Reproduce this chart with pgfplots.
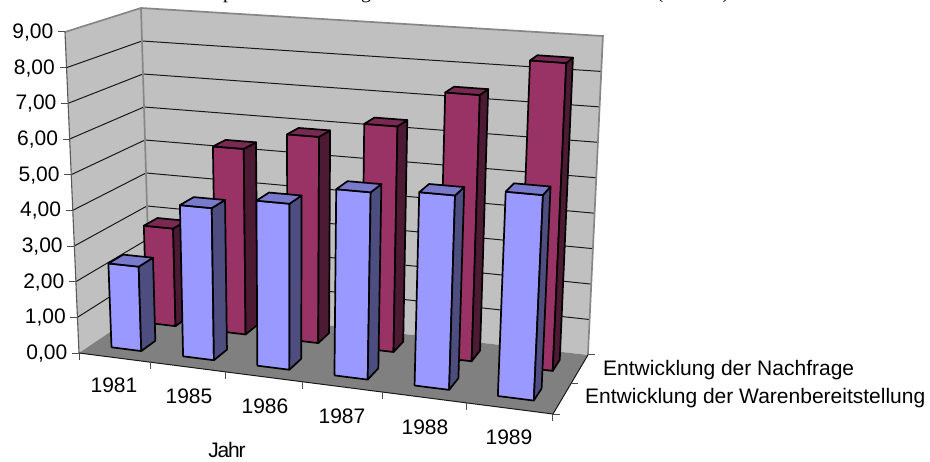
\documentclass[border=0pt]{standalone}
\usepackage{fontspec}
\setmainfont{Liberation Sans}
\newfontfamily\serifface{Liberation Serif}
\newfontfamily\tightface[LetterSpace=-5.5]{Liberation Sans}
\usepackage{pgfplots}
\usepackage{pgfplotstable}
\pgfplotsset{compat=1.18}

\definecolor{wallgrey}{HTML}{C0C0C0}
\definecolor{floorgrey}{HTML}{808080}
\definecolor{edgegrey}{HTML}{868686}
\definecolor{bluefront}{HTML}{9999FF}
\definecolor{blueside}{HTML}{4D4D80}
\definecolor{bluetop}{HTML}{7A7ACC}
\definecolor{redfront}{HTML}{993366}
\definecolor{redside}{HTML}{4D1A33}
\definecolor{redtop}{HTML}{7A2952}

% Yearly values of both series, front row first
\pgfplotstableread{
year angebot nachfrage
1981 2.37 2.85
1985 4.21 5.35
1986 4.53 5.87
1987 5.04 6.34
1988 5.16 7.39
1989 5.38 8.44
}\bardata

% Perspective view: category position c (0..6), series depth d (0..2), value z
\newcommand\project[3]{%
  \pgfmathsetmacro\pu{(#1)/6}\pgfmathsetmacro\pv{(#2)/2}%
  \pgfmathsetmacro\W{1-0.10938*\pu+0.09093*\pv}%
  \pgfmathsetmacro\Sx{(1-\pu)*(1-\pv)*(-1.5556)+\pu*(1-\pv)*1.8889+\pu*\pv*1.6667+(1-\pu)*\pv*(-1)}%
  \pgfmathsetmacro\Sy{(1-\pu)*(1-\pv)*(-35.667)+\pu*(1-\pv)*(-38.9)+\pu*\pv*(-35.44)+(1-\pu)*\pv*(-33)}%
  \pgfmathsetmacro\rx{(413.5*\pu+84.64*\pv+79)/\W+(#3)*\Sx}%
  \pgfmathsetmacro\ry{(15.72*\pu-20.27*\pv+353)/\W+(#3)*\Sy}%
}
\newcommand\startpath{\gdef\coordlist{}}
\newcommand\pt[3]{\project{#1}{#2}{#3}\xdef\coordlist{\coordlist (\rx,\ry)}}
\newcommand\emitpath[1]{\edef\tmp{\noexpand\addplot[\unexpanded{#1}] coordinates {\coordlist};}\tmp}
\newcommand\face[5]{% style, then four corners given as {c}{d}{z} groups
  \startpath\pt#2\pt#3\pt#4\pt#5\pt#2\emitpath{#1}}

% One bar: category, row, value, front colour, side colour, top colour
\newcommand\drawbar[6]{%
  \pgfmathsetmacro\ca{#1+0.29}\pgfmathsetmacro\cb{#1+0.71}%
  \pgfmathsetmacro\da{#2+0.32}\pgfmathsetmacro\db{#2+0.72}%
  \edef\A{{\ca}{\da}{0}}\edef\B{{\cb}{\da}{0}}\edef\C{{\cb}{\db}{0}}%
  \edef\D{{\ca}{\da}{#3}}\edef\E{{\cb}{\da}{#3}}\edef\F{{\cb}{\db}{#3}}\edef\G{{\ca}{\db}{#3}}%
  \startpath\expandafter\pt\A\expandafter\pt\B\expandafter\pt\E\expandafter\pt\D\expandafter\pt\A
  \emitpath{fill=#4,barline}%
  \startpath\expandafter\pt\B\expandafter\pt\C\expandafter\pt\F\expandafter\pt\E\expandafter\pt\B
  \emitpath{fill=#5,barline}%
  \startpath\expandafter\pt\D\expandafter\pt\E\expandafter\pt\F\expandafter\pt\G\expandafter\pt\D
  \emitpath{fill=#6,barline}%
}

\pgfplotsset{barline/.style={draw=black,line width=1.7pt,line join=round}}
\tikzset{lab/.style={font=\fontsize{21}{25}\selectfont,inner sep=0pt,text=black}}

\begin{document}
\begin{tikzpicture}
\useasboundingbox (0,0) rectangle (930pt,461pt);
\begin{axis}[
  at={(0,0)},anchor=south west,scale only axis,
  width=930pt,height=461pt,
  xmin=0,xmax=930,ymin=0,ymax=461,y dir=reverse,
  hide axis,clip=false]

% Walls and floor
\face{fill=wallgrey,draw=none}{{0}{0}{0}}{{0}{2}{0}}{{0}{2}{9}}{{0}{0}{9}}
\face{fill=wallgrey,draw=none}{{0}{2}{0}}{{6}{2}{0}}{{6}{2}{9}}{{0}{2}{9}}
\face{fill=floorgrey,draw=none}{{0}{0}{0}}{{6}{0}{0}}{{6}{2}{0}}{{0}{2}{0}}

% Grid lines on both walls
\foreach \z in {1,...,8}{
  \startpath\pt{0}{0}{\z}\pt{0}{2}{\z}\pt{6}{2}{\z}\emitpath{draw=black!90,line width=1pt}
}
\startpath\pt{0}{0}{9}\pt{0}{2}{9}\pt{6}{2}{9}\pt{6}{2}{0}\emitpath{draw=edgegrey,line width=1.7pt}
\startpath\pt{0}{2}{9}\pt{0}{2}{0}\emitpath{draw=edgegrey,line width=1.7pt}
\startpath\pt{0}{0}{0}\pt{0}{0}{9}\emitpath{draw=black!65,line width=1.1pt}
\startpath\pt{0}{0}{0}\pt{6}{0}{0}\pt{6}{2}{0}\emitpath{draw=black!90,line width=1pt}

% Value axis ticks and labels
\foreach \z in {0,...,9}{
  \project{0}{0}{\z}
  \pgfmathsetmacro\tx{\rx-7}\pgfmathsetmacro\lx{\rx-11.5}\pgfmathsetmacro\ly{\ry+0.5}
  \edef\tmp{\noexpand\addplot[draw=black!70,line width=1pt] coordinates {(\rx,\ry)(\tx,\ry)};
    \noexpand\node[lab,anchor=east] at (axis cs:\lx,\ly) {\z,00};}\tmp
}
% Category axis ticks
\foreach \c in {0,...,6}{
  \project{\c}{0}{0}
  \pgfmathsetmacro\ty{\ry+7}
  \edef\tmp{\noexpand\addplot[draw=black!70,line width=1pt] coordinates {(\rx,\ry)(\rx,\ty)};}\tmp
}
% Depth axis ticks
\foreach \d in {0,1,2}{
  \project{6}{\d}{0}
  \pgfmathsetmacro\tx{\rx+7}
  \edef\tmp{\noexpand\addplot[draw=black!70,line width=1pt] coordinates {(\rx,\ry)(\tx,\ry)};}\tmp
}

% Back row, then front row
\foreach \i in {0,...,5}{
  \pgfplotstablegetelem{\i}{nachfrage}\of\bardata\let\val\pgfplotsretval
  \drawbar{\i}{1}{\val}{redfront}{redside}{redtop}
}
\foreach \i in {0,...,5}{
  \pgfplotstablegetelem{\i}{angebot}\of\bardata\let\val\pgfplotsretval
  \drawbar{\i}{0}{\val}{bluefront}{blueside}{bluetop}
}

% Category names, axis title and series names
\node[lab] at (axis cs:114,385) {1981};
\node[lab] at (axis cs:189,396) {1985};
\node[lab] at (axis cs:265,406) {1986};
\node[lab] at (axis cs:342,416) {1987};
\node[lab] at (axis cs:425,427) {1988};
\node[lab] at (axis cs:509,437) {1989};
\node[lab,font=\fontsize{21}{25}\tightface] at (axis cs:227,450) {Jahr};
\node[lab,anchor=west] at (axis cs:603,370) {Entwicklung der Nachfrage};
\node[lab,anchor=west] at (axis cs:585,398) {Entwicklung der Warenbereitstellung};

% Descenders of the heading line, which runs off the top edge
\node[lab,anchor=base,font=\fontsize{20}{24}\serifface] at (axis cs:228,-1.5) {p};
\node[lab,anchor=base,font=\fontsize{20}{24}\serifface] at (axis cs:366,-1.5) {g};
\node[lab,anchor=base,font=\fontsize{20}{24}\serifface] at (axis cs:660,-1.5) {(};
\node[lab,anchor=base,font=\fontsize{20}{24}\serifface] at (axis cs:726,-1.5) {)};
\end{axis}
\end{tikzpicture}
\end{document}
